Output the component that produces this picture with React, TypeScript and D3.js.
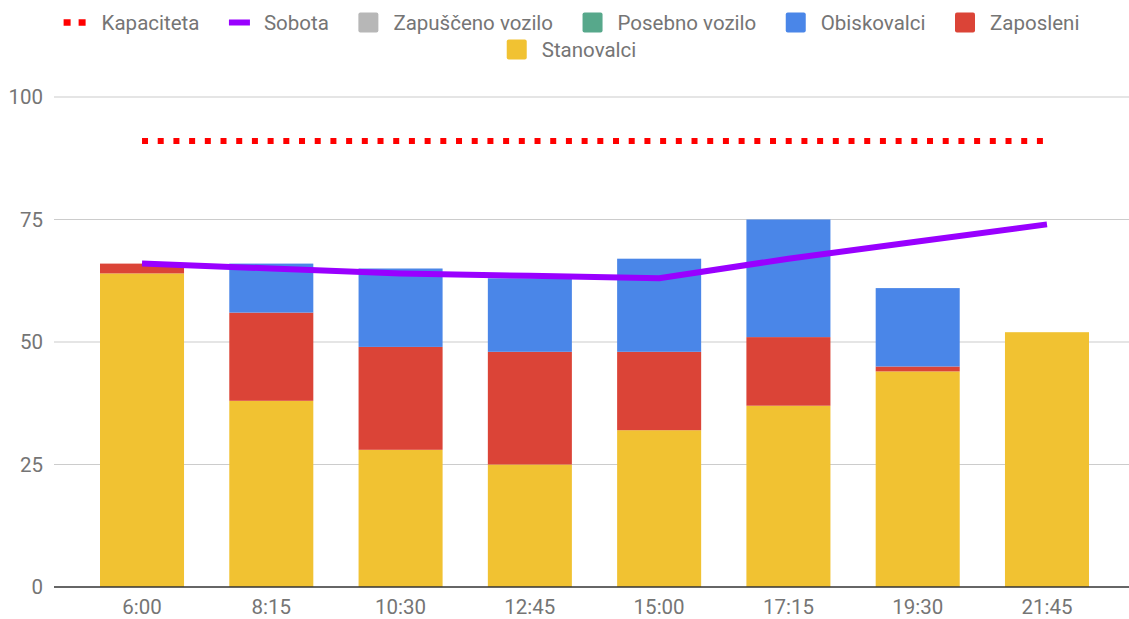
import React, { useEffect, useRef } from 'react';
import * as d3 from 'd3';

const times = ['6:00', '8:15', '10:30', '12:45', '15:00', '17:15', '19:30', '21:45'];
const stanovalci = [64, 38, 28, 25, 32, 37, 44, 52];
const zaposleni = [2, 18, 21, 23, 16, 14, 1, 0];
const obiskovalci = [0, 10, 16, 15, 19, 24, 16, 0];
const posebnoVozilo = [0, 0, 0, 0, 0, 0, 0, 0];
const zapuscenoVozilo = [0, 0, 0, 0, 0, 0, 0, 0];
const sobota = [66, 65, 64, 63.5, 63, 67, 70.5, 74];
const kapaciteta = [91, 91, 91, 91, 91, 91, 91, 91];
const yTicks = [0, 25, 50, 75, 100];

const stackKeys = ['Stanovalci', 'Zaposleni', 'Obiskovalci', 'Posebno vozilo', 'Zapuščeno vozilo'];
const colors: Record<string, string> = {
  Kapaciteta: '#ff0000',
  Sobota: '#9900ff',
  'Zapuščeno vozilo': '#b7b7b7',
  'Posebno vozilo': '#57a88b',
  Obiskovalci: '#4a86e8',
  Zaposleni: '#db4437',
  Stanovalci: '#f1c232',
};

const W = 1129;
const H = 619;

const App = () => {
  const svgRef = useRef<SVGSVGElement>(null);

  useEffect(() => {
    const svg = d3.select(svgRef.current);
    svg.selectAll('*').remove();
    const font = 'Roboto, sans-serif';
    const fs = 20.5;

    const x = d3.scaleBand<string>().domain(times).range([100, 1089]).paddingInner(0.35).paddingOuter(0);
    const y = d3.scaleLinear().domain([0, 100]).range([587, 97]);

    // grid
    svg.append('g').selectAll('line').data(yTicks.filter(t => t > 0)).enter().append('line')
      .attr('x1', 54).attr('x2', W).attr('y1', d => y(d)).attr('y2', d => y(d))
      .attr('stroke', '#cccccc').attr('stroke-width', 1.2);

    svg.append('g').selectAll('text').data(yTicks).enter().append('text')
      .attr('x', 43).attr('y', d => y(d) + 7).attr('text-anchor', 'end')
      .attr('font-family', font).attr('font-size', fs).attr('fill', '#757575')
      .text(d => d);

    const rows = times.map((t, i) => ({
      time: t,
      Stanovalci: stanovalci[i],
      Zaposleni: zaposleni[i],
      Obiskovalci: obiskovalci[i],
      'Posebno vozilo': posebnoVozilo[i],
      'Zapuščeno vozilo': zapuscenoVozilo[i],
    }));
    const series = d3.stack<any>().keys(stackKeys)(rows);

    svg.append('g').selectAll('g').data(series).enter().append('g')
      .attr('fill', d => colors[d.key])
      .selectAll('rect').data(d => d).enter().append('rect')
      .attr('x', d => x(d.data.time)!)
      .attr('width', x.bandwidth())
      .attr('y', d => y(d[1]))
      .attr('height', d => Math.max(0, y(d[0]) - y(d[1])));

    // baseline
    svg.append('line').attr('x1', 54).attr('x2', W).attr('y1', y(0)).attr('y2', y(0))
      .attr('stroke', '#333333').attr('stroke-width', 1.5);

    svg.append('g').selectAll('text').data(times).enter().append('text')
      .attr('x', d => x(d)! + x.bandwidth() / 2).attr('y', 614).attr('text-anchor', 'middle')
      .attr('font-family', font).attr('font-size', fs).attr('fill', '#757575')
      .text(d => d);

    const line = d3.line<number>().x((_, i) => x(times[i])! + x.bandwidth() / 2).y(d => y(d));

    svg.append('path').attr('d', line(kapaciteta)).attr('fill', 'none')
      .attr('stroke', colors.Kapaciteta).attr('stroke-width', 6).attr('stroke-dasharray', '6 9.7');

    svg.append('path').attr('d', line(sobota)).attr('fill', 'none')
      .attr('stroke', colors.Sobota).attr('stroke-width', 6).attr('stroke-linejoin', 'round');

    // legend
    const legendRows = [
      ['Kapaciteta', 'Sobota', 'Zapuščeno vozilo', 'Posebno vozilo', 'Obiskovalci', 'Zaposleni'],
      ['Stanovalci'],
    ];
    const legend = svg.append('g');
    legendRows.forEach((items, r) => {
      const rowY = 22.5 + r * 27;
      const g = legend.append('g');
      let cx = 0;
      items.forEach((name, k) => {
        const item = g.append('g').attr('transform', `translate(${cx},0)`);
        if (name === 'Kapaciteta') {
          item.append('line').attr('x1', 0).attr('x2', 22).attr('y1', rowY).attr('y2', rowY)
            .attr('stroke', colors[name]).attr('stroke-width', 6.5).attr('stroke-dasharray', '7 8');
        } else if (name === 'Sobota') {
          item.append('line').attr('x1', 0).attr('x2', 21).attr('y1', rowY).attr('y2', rowY)
            .attr('stroke', colors[name]).attr('stroke-width', 6);
        } else {
          item.append('rect').attr('x', 0).attr('y', rowY - 10).attr('width', 20).attr('height', 20)
            .attr('rx', 2).attr('fill', colors[name]);
        }
        const tx = name === 'Kapaciteta' ? 38 : 35;
        const txt = item.append('text').attr('x', tx).attr('y', rowY + 7.5)
          .attr('font-family', font).attr('font-size', fs).attr('fill', '#757575').text(name);
        const tw = (txt.node() as SVGTextElement).getComputedTextLength();
        cx += tx + tw + (k < items.length - 1 ? 29.5 : 0);
      });
      const center = 571.5;
      g.attr('transform', `translate(${center - cx / 2},0)`);
    });
  }, []);

  return <svg ref={svgRef} width={W} height={H} style={{ display: 'block', position: 'absolute', left: 0, top: 0 }} />;
};

export default App;
